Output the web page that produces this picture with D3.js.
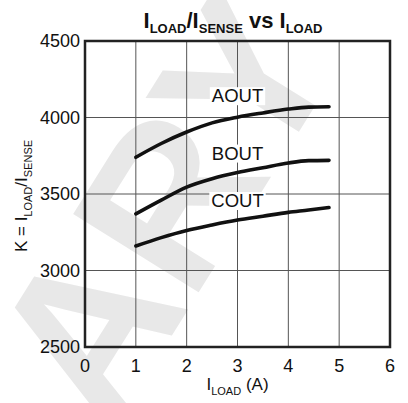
<!DOCTYPE html>
<html><head><meta charset="utf-8">
<script src="https://cdn.jsdelivr.net/npm/d3@7"></script>
<style>body{margin:0;background:#fff}text{font-family:"Liberation Sans",Arial,sans-serif}</style>
</head><body><svg id="c" width="408" height="403"></svg>
<script>
const xTicks = [0,1,2,3,4,5,6];
const yTicks = [2500,3000,3500,4000,4500];
const seriesNames = ["AOUT","BOUT","COUT"];
const xVals = [1, 1.5, 2, 2.5, 3, 3.5, 4, 4.4, 4.8];
const aout = [3740, 3830, 3905, 3965, 4002, 4030, 4055, 4068, 4070];
const bout = [3370, 3460, 3545, 3600, 3640, 3672, 3703, 3718, 3720];
const cout = [3160, 3215, 3262, 3298, 3330, 3355, 3380, 3395, 3412];
const labelPos = [[3, 4100], [3, 3725], [3, 3415]];

const svg = d3.select("#c");
const m = {l:85, r:390, t:41, b:347};
const x = d3.scaleLinear().domain([0,6]).range([m.l, m.r]);
const y = d3.scaleLinear().domain([2500,4500]).range([m.b, m.t]);

// watermark
const wm = svg.append("g").attr("transform","translate(95,345) rotate(-58)");
wm.append("text").attr("x",-70).attr("y",60).attr("font-size",215).attr("font-weight","bold")
  .attr("fill","#e8e8e8").text("ARY");

// grid
svg.append("g").selectAll("line").data(xTicks.slice(1,-1)).join("line")
  .attr("x1",d=>x(d)).attr("x2",d=>x(d)).attr("y1",m.t).attr("y2",m.b)
  .attr("stroke","#555").attr("stroke-width",1);
svg.append("g").selectAll("line").data(yTicks.slice(1,-1)).join("line")
  .attr("y1",d=>y(d)).attr("y2",d=>y(d)).attr("x1",m.l).attr("x2",m.r)
  .attr("stroke","#555").attr("stroke-width",1);

// curves
const line = d3.line().x((d,i)=>x(xVals[i])).y(d=>y(d)).curve(d3.curveMonotoneX);
[aout,bout,cout].forEach(s=>{
  svg.append("path").attr("d",line(s)).attr("fill","none").attr("stroke","#111")
    .attr("stroke-width",3.6).attr("stroke-linecap","round");
});

// series labels with white backing
seriesNames.forEach((n,i)=>{
  const g = svg.append("g");
  const r = g.append("rect").attr("fill","#fff");
  const t = g.append("text").attr("x",x(labelPos[i][0])).attr("y",y(labelPos[i][1]))
    .attr("text-anchor","middle").attr("font-size",18.5).attr("fill","#111").text(n);
  const bb = t.node().getBBox();
  r.attr("x",bb.x-2).attr("y",bb.y+2).attr("width",bb.width+4).attr("height",bb.height-3);
});

// frame
svg.append("rect").attr("x",m.l).attr("y",m.t).attr("width",m.r-m.l).attr("height",m.b-m.t)
  .attr("fill","none").attr("stroke","#222").attr("stroke-width",2.5);

// axes tick labels
svg.append("g").selectAll("text").data(yTicks).join("text")
  .attr("x",m.l-5).attr("y",d=>y(d)+6).attr("text-anchor","end").attr("font-size",18).attr("fill","#111").text(d=>d);
svg.append("g").selectAll("text").data(xTicks).join("text")
  .attr("x",d=>x(d)).attr("y",m.b+25).attr("text-anchor","middle").attr("font-size",18).attr("fill","#111").text(d=>d);

// x axis title
const xt = svg.append("text").attr("x",x(3)).attr("y",390).attr("text-anchor","middle").attr("font-size",17).attr("fill","#111");
xt.append("tspan").text("I");
xt.append("tspan").attr("font-size",11).attr("dy",5).text("LOAD");
xt.append("tspan").attr("dy",-5).text(" (A)");

// y axis title
const yt = svg.append("text").attr("transform",`translate(27,${(m.t+m.b)/2+2}) rotate(-90)`)
  .attr("text-anchor","middle").attr("font-size",17).attr("fill","#111");
yt.append("tspan").text("K = I");
yt.append("tspan").attr("font-size",11).attr("dy",5).text("LOAD");
yt.append("tspan").attr("dy",-5).text("/I");
yt.append("tspan").attr("font-size",11).attr("dy",5).text("SENSE");

// title
const tt = svg.append("text").attr("x",233).attr("y",28).attr("text-anchor","middle")
  .attr("font-size",22).attr("font-weight","bold").attr("fill","#111");
tt.append("tspan").text("I");
tt.append("tspan").attr("font-size",13).attr("dy",5).text("LOAD");
tt.append("tspan").attr("dy",-5).text("/I");
tt.append("tspan").attr("font-size",13).attr("dy",5).text("SENSE");
tt.append("tspan").attr("dy",-5).text(" vs I");
tt.append("tspan").attr("font-size",13).attr("dy",5).text("LOAD");
</script></body></html>
